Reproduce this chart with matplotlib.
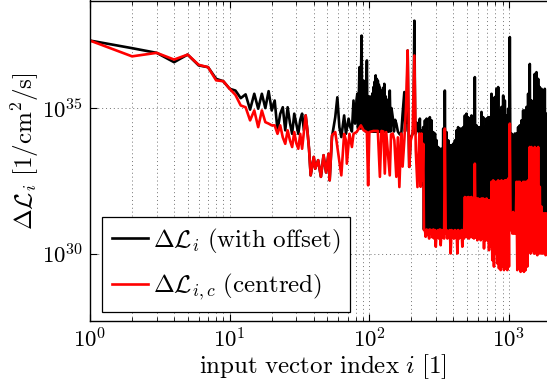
import numpy as np
import matplotlib
matplotlib.use("Agg")
import matplotlib.pyplot as plt
from matplotlib.ticker import FixedLocator, FixedFormatter, NullLocator

plt.rcParams['mathtext.fontset'] = 'cm'
plt.rcParams['font.family'] = ['DejaVu Serif']

# values are stored as log10 of Delta L (read from the log axis)
# --- first part: every index 1..37
head_idx = list(range(1, 38))
black_head = [37.31, 37.05, 36.89, 36.57, 36.83, 36.46, 36.40, 36.00, 35.92, 35.66,
              35.60, 35.34, 35.47, 34.95, 35.49, 34.98, 35.49, 35.00, 35.58, 34.92,
              35.26, 34.24, 34.80, 35.03, 34.24, 35.03, 34.50, 34.12, 34.81, 34.45,
              34.12, 34.60, 34.81, 34.24, 34.75, 34.24, 33.60]
red_head = [37.31, 36.77, 36.89, 36.66, 36.83, 36.48, 36.40, 35.95, 35.92, 35.66,
            35.45, 35.09, 35.03, 34.58, 34.92, 34.35, 34.92, 34.52, 34.47, 34.41,
            34.41, 34.12, 34.41, 34.00, 33.78, 34.24, 33.90, 33.67, 34.18, 33.80,
            33.61, 34.12, 33.61, 34.20, 34.75, 34.24, 33.60]

# --- both curves coincide here
shared_idx = [38, 40, 41, 43, 45, 47, 49, 51, 52]
shared_val = [32.70, 33.33, 32.93, 33.22, 32.65, 33.39, 32.80, 33.44, 32.53]

# --- middle part
black_mid_idx = [54, 57, 59, 61, 63, 66, 68, 71, 73, 75, 77, 79, 81, 82, 83, 85, 86, 88, 89, 91,
                 92, 93, 94, 96, 97, 99, 100, 101, 102, 103, 104, 105, 106, 107, 108, 109, 110,
                 111, 112, 113, 114, 115, 116, 117, 118, 119, 120, 121, 122, 123, 124, 126, 127,
                 128, 129, 131, 132, 134, 135, 137, 138, 140, 142, 144, 147, 150, 153, 156, 160,
                 164, 169, 173, 178, 180, 183, 185, 188, 190, 193, 198, 204, 207, 210, 213, 215,
                 218, 221, 225, 228]
black_mid = [34.01, 34.69, 35.37, 34.35, 34.01, 34.75, 34.12, 34.64, 34.35, 34.2,
             35.26, 34.47, 35.3, 35.49, 34.3, 36.40, 34.3, 37.48, 34.3, 35.94,
             34.3, 35.49, 34.2, 36.63, 34.2, 35.4, 34.2, 35.26, 34.2, 35.4,
             34.2, 35.5, 34.2, 35.72, 34.2, 35.9, 34.2, 36.12, 34.2, 36.0,
             34.2, 35.94, 34.2, 35.8, 34.2, 35.7, 34.2, 35.6, 34.2, 35.49,
             34.2, 35.7, 34.2, 35.83, 34.2, 35.4, 34.2, 35.03, 34.2, 35.3,
             34.2, 35.60, 34.2, 35.0, 34.69, 34.2, 34.6, 34.47, 34.2, 34.12,
             34.07, 34.8, 35.55, 34.2, 34.92, 34.5, 36.97, 34.8, 32.99, 34.0,
             34.12, 34.3, 37.99, 34.2, 34.12, 34.5, 34.4, 34.2, 34.35]
red_mid_idx = [54, 57, 59, 61, 63, 66, 68, 69, 72, 75, 77, 81, 84, 87, 91, 96, 98, 100, 107, 115,
               119, 122, 126, 129, 132, 140, 143, 147, 151, 156, 160, 164, 169, 173, 178, 183,
               188, 193, 198, 204, 210, 215, 221, 228]
red_mid = [34.07, 34.18, 33.67, 33.2, 32.70, 34.12, 33.90, 33.10, 34.12, 33.67,
           34.12, 34.18, 34.3, 34.41, 34.24, 34.18, 32.36, 34.18, 34.22, 34.22,
           32.65, 34.22, 34.2, 32.76, 34.18, 32.70, 34.1, 34.13, 33.90, 32.65,
           34.0, 32.30, 34.13, 33.0, 33.9, 35.03, 36.97, 32.99, 33.9, 34.13,
           36.80, 33.55, 32.30, 34.13]

# --- dense tail: highs and lows of the oscillation
tail_hi_idx = [230, 236, 243, 250, 257, 264, 271, 279, 287, 295, 303, 311, 320, 329, 338, 347,
               357, 367, 377, 388, 398, 410, 421, 432, 444, 457, 470, 483, 496, 510, 524, 539,
               554, 569, 585, 601, 618, 635, 653, 671, 690, 709, 729, 749, 770, 791, 813, 836,
               859, 883, 908, 933, 959, 986, 1013, 1041, 1070, 1100, 1131, 1162, 1194, 1228,
               1262, 1297, 1333, 1370, 1408, 1448, 1488, 1529, 1572, 1616, 1660, 1707, 1754,
               1803, 1853]
tail_lo_idx = [233, 240, 246, 253, 260, 268, 275, 283, 291, 299, 307, 315, 324, 333, 343, 352,
               362, 372, 382, 393, 404, 415, 427, 438, 451, 463, 476, 490, 503, 517, 532, 546,
               561, 577, 593, 610, 627, 644, 662, 681, 700, 719, 739, 759, 780, 802, 824, 847,
               871, 895, 920, 946, 972, 999, 1027, 1056, 1085, 1115, 1146, 1178, 1211, 1245,
               1279, 1315, 1351, 1389, 1428, 1467, 1508, 1550, 1594, 1638, 1684, 1731, 1779,
               1829, 1870]
black_tail_hi = [34.64, 34.24, 34.35, 34.58, 34.64, 34.18, 34.69, 34.58, 34.18, 34.13,
                 33.90, 33.67, 33.61, 33.61, 34.30, 35.60, 34.18, 33.90, 33.73, 33.73,
                 33.78, 33.90, 34.24, 34.35, 34.30, 34.30, 34.35, 34.75, 34.81, 34.69,
                 34.64, 34.75, 34.58, 36.06, 34.41, 34.35, 34.35, 34.87, 34.69, 34.35,
                 34.64, 34.69, 34.69, 35.49, 35.26, 35.38, 35.66, 35.72, 34.92, 35.04,
                 35.43, 35.26, 34.75, 34.98, 37.43, 34.13, 34.01, 34.13, 34.13, 34.35,
                 34.41, 34.58, 34.92, 34.92, 35.04, 35.49, 36.51, 35.26, 35.15, 36.17,
                 36.23, 36.00, 35.72, 35.66, 35.49, 35.66, 34.81]
black_tail_lo = [32.40, 32.40, 30.85, 30.85, 30.85, 30.85, 30.85, 30.85, 30.85, 30.85,
                 30.85, 30.85, 30.85, 30.85, 30.85, 30.85, 30.85, 30.85, 30.85, 30.85,
                 30.85, 30.85, 30.85, 30.85, 30.85, 30.85, 30.85, 30.85, 30.85, 30.85,
                 30.85, 30.85, 30.85, 30.85, 30.85, 30.85, 30.85, 30.85, 30.85, 30.85,
                 30.85, 30.85, 30.85, 30.85, 30.85, 30.85, 30.85, 30.85, 30.85, 30.85,
                 30.85, 30.85, 30.85, 30.85, 30.85, 30.85, 30.85, 30.85, 30.85, 30.85,
                 30.85, 30.85, 30.85, 30.85, 30.85, 30.85, 30.85, 30.85, 30.85, 30.85,
                 30.85, 30.85, 30.85, 30.85, 30.85, 30.85, 30.85]
red_tail_hi = [34.07, 34.13, 33.78, 30.83, 30.85, 30.83, 30.85, 30.83, 30.85, 30.83,
               30.80, 30.83, 30.85, 30.83, 30.83, 34.30, 30.83, 30.80, 30.83, 30.83,
               30.80, 30.83, 30.80, 30.83, 30.80, 30.83, 30.83, 31.96, 31.94, 31.96,
               31.94, 31.96, 31.91, 33.10, 31.91, 31.91, 31.88, 31.91, 31.91, 31.88,
               31.91, 31.85, 31.85, 32.48, 32.53, 32.48, 32.48, 32.53, 32.48, 32.53,
               32.48, 32.53, 32.53, 32.59, 34.47, 31.40, 31.45, 30.83, 32.48, 32.48,
               32.48, 32.42, 32.48, 32.48, 32.48, 32.53, 33.67, 33.67, 32.48, 33.67,
               33.61, 33.67, 32.31, 31.63, 31.40, 31.40, 31.40]
red_tail_lo = [32.31, 32.53, 30.83, 30.60, 30.66, 30.54, 30.71, 30.58, 30.54, 30.26,
               30.58, 30.54, 30.31, 30.58, 30.54, 30.71, 30.54, 30.58, 30.03, 30.58,
               30.54, 30.58, 30.03, 30.54, 30.58, 30.26, 30.54, 30.60, 30.58, 30.54,
               30.60, 30.58, 30.54, 30.58, 30.48, 30.54, 30.48, 30.54, 30.20, 30.48,
               30.48, 30.14, 30.26, 29.80, 29.58, 30.03, 29.69, 29.52, 29.46, 29.58,
               29.46, 29.52, 29.46, 29.58, 30.83, 30.71, 30.71, 30.71, 29.46, 29.52,
               29.40, 29.46, 29.40, 29.46, 29.58, 30.71, 30.03, 30.14, 30.03, 30.03,
               29.97, 30.03, 30.03, 30.03, 30.03, 29.97, 30.03]

tail_idx = np.column_stack([tail_hi_idx, tail_lo_idx]).ravel()
black_tail = np.column_stack([black_tail_hi, black_tail_lo]).ravel()
red_tail = np.column_stack([red_tail_hi, red_tail_lo]).ravel()

black_x = np.concatenate([head_idx, shared_idx, black_mid_idx, tail_idx])
black_y = 10.0 ** np.concatenate([black_head, shared_val, black_mid, black_tail])
red_x = np.concatenate([head_idx, shared_idx, red_mid_idx, tail_idx])
red_y = 10.0 ** np.concatenate([red_head, shared_val, red_mid, red_tail])

fig = plt.figure(figsize=(5.47, 3.83), dpi=100)
ax = fig.add_axes([90 / 547, 62 / 383, 457 / 547, 320.5 / 383])

ax.plot(black_x, black_y, color='k', lw=1.9, label=r'$\Delta\mathcal{L}_i\ \mathrm{(with\ offset)}$')
ax.plot(red_x, red_y, color='r', lw=1.9, label=r'$\Delta\mathcal{L}_{i,c}\ \mathrm{(centred)}$')

ax.set_xscale('log')
ax.set_yscale('log')
ax.set_xlim(1, 1870)
ax.set_ylim(10 ** 27.72, 10 ** 38.68)

ax.xaxis.set_major_locator(FixedLocator([1, 10, 100, 1000]))
ax.xaxis.set_major_formatter(FixedFormatter([r'$10^{0}$', r'$10^{1}$', r'$10^{2}$', r'$10^{3}$']))
minors = [m * 10 ** d for d in range(0, 4) for m in range(2, 10)]
ax.xaxis.set_minor_locator(FixedLocator(minors))
ax.yaxis.set_major_locator(FixedLocator([1e30, 1e35]))
ax.yaxis.set_major_formatter(FixedFormatter([r'$10^{30}$', r'$10^{35}$']))
ax.yaxis.set_minor_locator(NullLocator())

ax.tick_params(which='both', direction='in', top=True, right=False, labelsize=16.5)
ax.tick_params(which='major', length=5, width=0.8, pad=5)
ax.tick_params(which='minor', length=3, width=0.6)

grid_kw = dict(color='0.45', lw=0.7, linestyle=(0, (1, 3)))
ax.grid(True, which='major', axis='both', **grid_kw)
ax.grid(True, which='minor', axis='x', **grid_kw)
ax.set_axisbelow(True)

ax.spines['right'].set_visible(False)
for s in ['left', 'bottom', 'top']:
    ax.spines[s].set_linewidth(1.0)

ax.set_xlabel(r'$\mathrm{input\ vector\ index}\ i\ [1]$', fontsize=18)
ax.xaxis.set_label_coords(0.51, -0.098)
ax.set_ylabel(r'$\Delta\mathcal{L}_i\ [1/\mathrm{cm}^2/\mathrm{s}]$', fontsize=18)
ax.yaxis.set_label_coords(-0.108, 0.53)

leg = ax.legend(loc='lower left', bbox_to_anchor=(0.026, 0.028), fontsize=18,
                fancybox=False, framealpha=1, edgecolor='k', borderaxespad=0,
                handlelength=1.45, handletextpad=0.2, borderpad=0.4, labelspacing=0.62)
leg.get_frame().set_linewidth(0.9)

fig.savefig('out.png', dpi=100)
